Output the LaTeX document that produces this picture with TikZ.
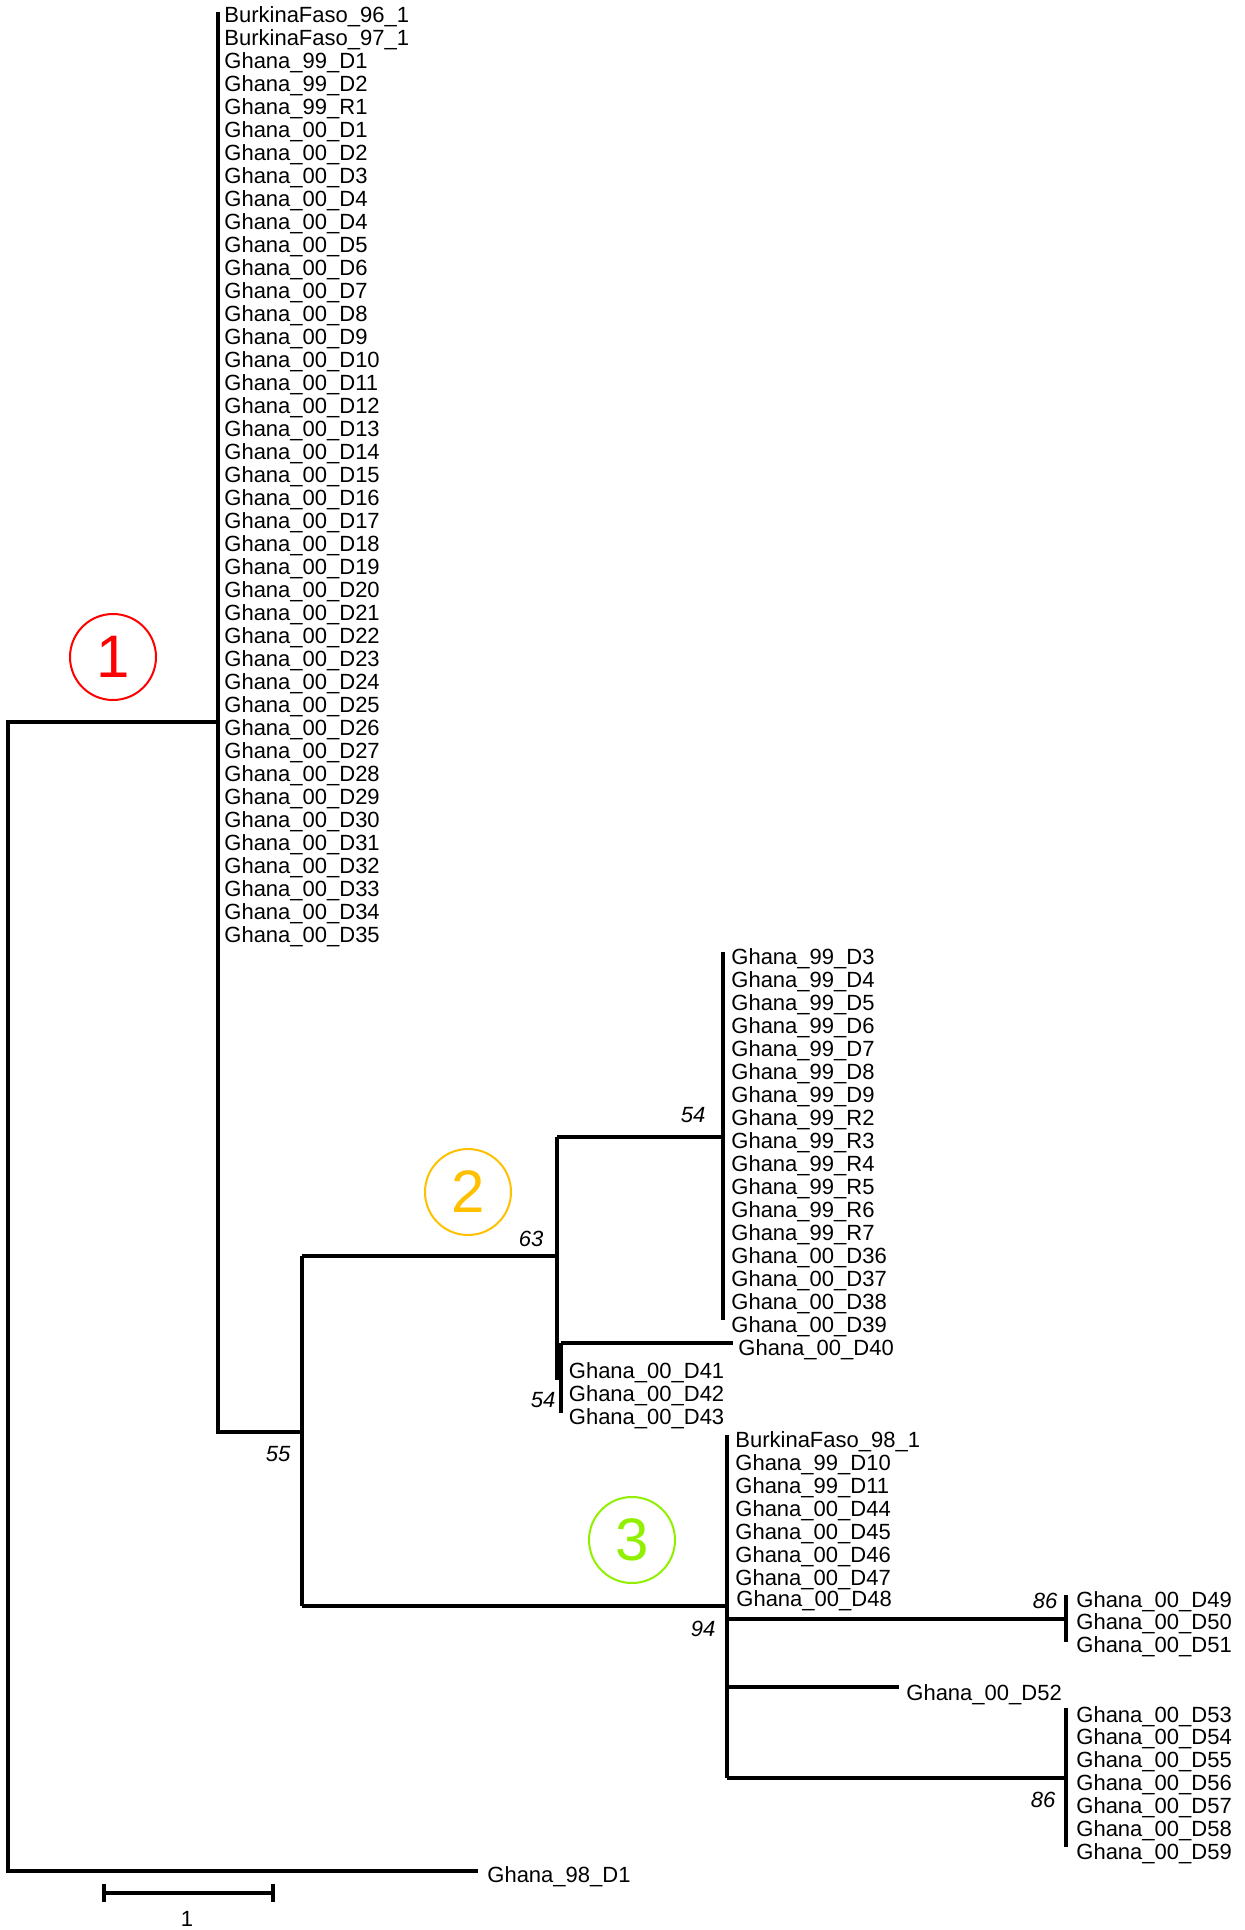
\documentclass[tikz,border=0pt]{standalone}
\usepackage{fontspec}
\usetikzlibrary{calc}
\setmainfont{Liberation Sans}
\definecolor{cred}{HTML}{FF0000}
\definecolor{cgold}{HTML}{FFC000}
\definecolor{cgreen}{HTML}{90F000}
\begin{document}
\begin{tikzpicture}[x=0.5pt,y=-0.5pt,
  br/.style={line width=1.6pt},
  leaf/.style={anchor=base west, inner sep=0pt, font=\fontsize{11}{13}\selectfont},
  boot/.style={anchor=center, inner sep=0pt, font=\fontsize{11}{13}\selectfont\itshape},
  clade/.style={circle, draw, line width=1pt, minimum size=43pt, inner sep=0pt,
                font=\fontsize{30}{30}\selectfont}]
\useasboundingbox (0,0) rectangle (1244,1930);

% ---------- leaf labels ----------
\foreach \t [count=\i from 0] in {BurkinaFaso\_96\_1,BurkinaFaso\_97\_1,Ghana\_99\_D1,Ghana\_99\_D2,Ghana\_99\_R1,
  Ghana\_00\_D1,Ghana\_00\_D2,Ghana\_00\_D3,Ghana\_00\_D4,Ghana\_00\_D4,Ghana\_00\_D5,Ghana\_00\_D6,Ghana\_00\_D7,
  Ghana\_00\_D8,Ghana\_00\_D9,Ghana\_00\_D10,Ghana\_00\_D11,Ghana\_00\_D12,Ghana\_00\_D13,Ghana\_00\_D14,
  Ghana\_00\_D15,Ghana\_00\_D16,Ghana\_00\_D17,Ghana\_00\_D18,Ghana\_00\_D19,Ghana\_00\_D20,Ghana\_00\_D21,
  Ghana\_00\_D22,Ghana\_00\_D23,Ghana\_00\_D24,Ghana\_00\_D25,Ghana\_00\_D26,Ghana\_00\_D27,Ghana\_00\_D28,
  Ghana\_00\_D29,Ghana\_00\_D30,Ghana\_00\_D31,Ghana\_00\_D32,Ghana\_00\_D33,Ghana\_00\_D34,Ghana\_00\_D35}
  \node[leaf] (a\i) at (224,{23+22.975*\i}) {\t};

\foreach \t [count=\i from 41] in {Ghana\_99\_D3,Ghana\_99\_D4,Ghana\_99\_D5,Ghana\_99\_D6,Ghana\_99\_D7,
  Ghana\_99\_D8,Ghana\_99\_D9,Ghana\_99\_R2,Ghana\_99\_R3,Ghana\_99\_R4,Ghana\_99\_R5,Ghana\_99\_R6,
  Ghana\_99\_R7,Ghana\_00\_D36,Ghana\_00\_D37,Ghana\_00\_D38,Ghana\_00\_D39}
  \node[leaf] (b\i) at (731,{23+22.975*\i}) {\t};

\node[leaf] (d40) at (738,1355.5) {Ghana\_00\_D40};
\foreach \t [count=\i from 59] in {Ghana\_00\_D41,Ghana\_00\_D42,Ghana\_00\_D43}
  \node[leaf] (e\i) at (568.5,{23+22.975*\i}) {\t};

\foreach \t [count=\i from 62] in {BurkinaFaso\_98\_1,Ghana\_99\_D10,Ghana\_99\_D11,Ghana\_00\_D44,
  Ghana\_00\_D45,Ghana\_00\_D46,Ghana\_00\_D47}
  \node[leaf] (f\i) at (735,{23+22.975*\i}) {\t};
\node[leaf] (d48) at (736,1606) {Ghana\_00\_D48};

\foreach \t [count=\i from 0] in {Ghana\_00\_D49,Ghana\_00\_D50,Ghana\_00\_D51}
  \node[leaf] (g\i) at (1076,{1607+22.8*\i}) {\t};
\node[leaf] (d52) at (906,1700) {Ghana\_00\_D52};
\foreach \t [count=\i from 0] in {Ghana\_00\_D53,Ghana\_00\_D54,Ghana\_00\_D55,Ghana\_00\_D56,
  Ghana\_00\_D57,Ghana\_00\_D58,Ghana\_00\_D59}
  \node[leaf] (h\i) at (1076,{1722+22.975*\i}) {\t};
\node[leaf] (g98) at (487,1882) {Ghana\_98\_D1};

% ---------- tree coordinates ----------
\coordinate (r1) at (8,722);
\coordinate (r2) at (8,1871);
\coordinate (t98) at (478,1871);
\coordinate (c1) at (218,722);
\coordinate (c1t) at (218,12);
\coordinate (c1b) at (218,1432);
\coordinate (n55) at (302,1432);
\coordinate (n55t) at (302,1256);
\coordinate (n55b) at (302,1606);
\coordinate (n63) at (557,1256);
\coordinate (n63t) at (557,1137);
\coordinate (n63b) at (557,1378);
\coordinate (n54a) at (723,1137);
\coordinate (c2t) at (723,952);
\coordinate (c2b) at (723,1320);
\coordinate (n54b) at (561,1378);
\coordinate (n54bt) at (561,1343);
\coordinate (n54bb) at (561,1413);
\coordinate (t40) at (733,1343);
\coordinate (n94) at (727,1606);
\coordinate (n94t) at (727,1435);
\coordinate (n94b) at (727,1778);
\coordinate (n94a) at (727,1619);
\coordinate (n94c) at (727,1687);
\coordinate (n86a) at (1066,1619);
\coordinate (n86at) at (1066,1595);
\coordinate (n86ab) at (1066,1642);
\coordinate (t52) at (899,1687);
\coordinate (n86b) at (1066,1778);
\coordinate (n86bt) at (1066,1708);
\coordinate (n86bb) at (1066,1847);

% ---------- branches ----------
\draw[br] (c1) -- (r1) -- (r2) -- (t98);
\draw[br] (c1t) -- (c1b) -- (n55);
\draw[br] (n55t) -- (n55b);
\draw[br] (n55t) -- (n63);
\draw[br] (n63t) -- (n63b) -- (n54b);
\draw[br] (n63t) -- (n54a);
\draw[br] (c2t) -- (c2b);
\draw[br] (n54bt) -- (n54bb);
\draw[br] (n54bt) -- (t40);
\draw[br] (n55b) -- (n94);
\draw[br] (n94t) -- (n94b);
\draw[br] (n94a) -- (n86a);
\draw[br] (n86at) -- (n86ab);
\draw[br] (n94c) -- (t52);
\draw[br] (n94b) -- (n86b);
\draw[br] (n86bt) -- (n86bb);

% ---------- bootstrap values ----------
\node[boot] (b55) at (278,1454) {55};
\node[boot] (b63) at (531,1239) {63};
\node[boot] (b54a) at (693,1115) {54};
\node[boot] (b54b) at (543,1400) {54};
\node[boot] (b94) at (703,1629) {94};
\node[boot] (b86a) at (1045,1601) {86};
\node[boot] (b86b) at (1043,1800) {86};

% ---------- scale bar ----------
\coordinate (s1) at (104,1893);
\coordinate (s2) at (273,1893);
\draw[br] (s1) -- (s2);
\draw[br] ($(s1)+(0,-9)$) -- ($(s1)+(0,9)$);
\draw[br] ($(s2)+(0,-9)$) -- ($(s2)+(0,9)$);
\node[leaf, anchor=base] (sl) at (187,1926) {1};

% ---------- clade markers ----------
\node[clade, draw=cred, text=cred] (k1) at (113,657) {1};
\node[clade, draw=cgold, text=cgold] (k2) at (468,1192) {2};
\node[clade, draw=cgreen, text=cgreen] (k3) at (632,1540) {3};
\end{tikzpicture}
\end{document}
